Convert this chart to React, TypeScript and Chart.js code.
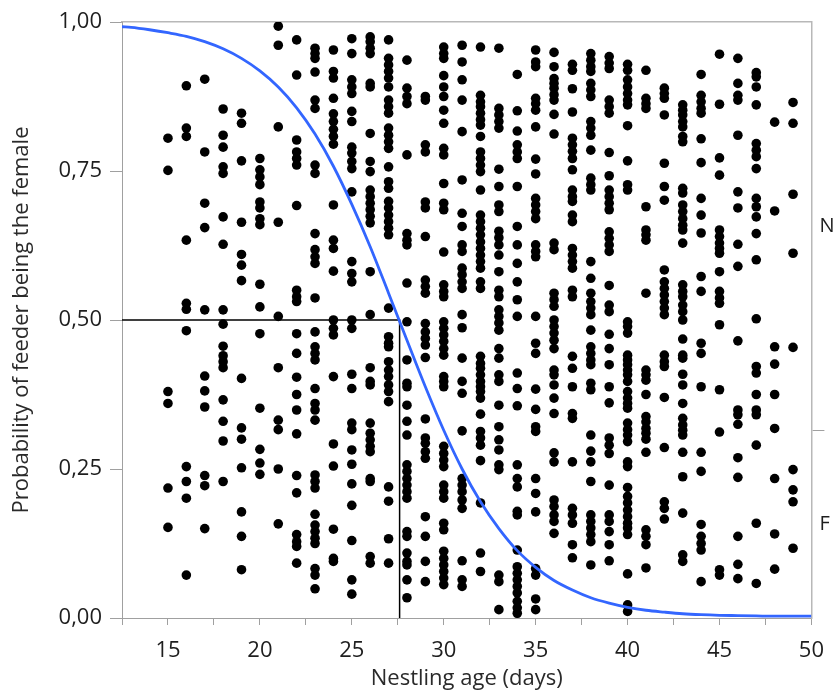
import React, { useEffect, useRef } from 'react';
import { Chart, registerables } from 'chart.js';

Chart.register(...registerables);

// ---- data ----
const ages = [15, 16, 17, 18, 19, 20, 21, 22, 23, 24, 25, 26, 27, 28, 29, 30, 31, 32, 33, 34, 35, 36, 37, 38, 39, 40, 41, 42, 43, 44, 45, 46, 47, 48, 49];

const feeder15 = [0.805, 0.751, 0.38, 0.36, 0.218, 0.152];
const feeder16 = [0.893, 0.822, 0.808, 0.634, 0.528, 0.518, 0.482, 0.254, 0.229, 0.201, 0.072];
const feeder17 = [0.904, 0.782, 0.696, 0.655, 0.517, 0.406, 0.381, 0.354, 0.239, 0.222, 0.15];
const feeder18 = [0.854, 0.81, 0.79, 0.757, 0.746, 0.673, 0.627, 0.517, 0.493, 0.456, 0.44, 0.43, 0.42, 0.366, 0.33, 0.297, 0.229];
const feeder19 = [0.847, 0.83, 0.767, 0.664, 0.61, 0.592, 0.566, 0.402, 0.319, 0.3, 0.252, 0.178, 0.137, 0.081];
const feeder20 = [0.771, 0.752, 0.74, 0.727, 0.698, 0.688, 0.67, 0.66, 0.56, 0.522, 0.477, 0.352, 0.283, 0.26, 0.241];
const feeder21 = [0.993, 0.961, 0.824, 0.664, 0.506, 0.42, 0.332, 0.316, 0.25, 0.158];
const feeder22 = [0.97, 0.911, 0.802, 0.782, 0.771, 0.76, 0.692, 0.55, 0.539, 0.531, 0.477, 0.444, 0.404, 0.375, 0.349, 0.309, 0.239, 0.21, 0.14, 0.128, 0.12, 0.092];
const feeder23 = [0.956, 0.947, 0.939, 0.916, 0.869, 0.855, 0.76, 0.746, 0.645, 0.618, 0.606, 0.595, 0.537, 0.48, 0.455, 0.444, 0.433, 0.385, 0.36, 0.349, 0.332, 0.24, 0.229, 0.218, 0.174, 0.156, 0.145, 0.134, 0.125, 0.083, 0.072, 0.049];
const feeder24 = [0.953, 0.917, 0.906, 0.872, 0.846, 0.833, 0.82, 0.808, 0.795, 0.693, 0.634, 0.62, 0.582, 0.5, 0.486, 0.475, 0.405, 0.292, 0.255, 0.149, 0.1, 0.095];
const feeder25 = [0.972, 0.947, 0.903, 0.891, 0.88, 0.85, 0.833, 0.79, 0.78, 0.766, 0.754, 0.715, 0.598, 0.578, 0.564, 0.5, 0.486, 0.409, 0.385, 0.327, 0.316, 0.282, 0.258, 0.225, 0.189, 0.13, 0.064, 0.04];
const feeder26 = [0.975, 0.967, 0.956, 0.947, 0.897, 0.891, 0.813, 0.766, 0.749, 0.718, 0.707, 0.696, 0.685, 0.674, 0.663, 0.581, 0.509, 0.42, 0.397, 0.391, 0.327, 0.31, 0.299, 0.288, 0.279, 0.234, 0.229, 0.103, 0.092];
const feeder27 = [0.97, 0.939, 0.928, 0.917, 0.906, 0.891, 0.869, 0.858, 0.847, 0.822, 0.81, 0.799, 0.788, 0.757, 0.732, 0.721, 0.699, 0.688, 0.676, 0.665, 0.654, 0.643, 0.52, 0.472, 0.461, 0.455, 0.43, 0.416, 0.405, 0.391, 0.38, 0.363, 0.22, 0.196, 0.133, 0.092];
const feeder28 = [0.936, 0.889, 0.875, 0.863, 0.777, 0.645, 0.634, 0.626, 0.562, 0.497, 0.433, 0.394, 0.388, 0.357, 0.33, 0.307, 0.257, 0.246, 0.234, 0.223, 0.212, 0.201, 0.145, 0.137, 0.109, 0.095, 0.089, 0.064, 0.034];
const feeder29 = [0.875, 0.869, 0.794, 0.782, 0.698, 0.688, 0.64, 0.567, 0.556, 0.545, 0.494, 0.48, 0.469, 0.458, 0.437, 0.334, 0.302, 0.293, 0.279, 0.268, 0.17, 0.137, 0.095, 0.061];
const feeder30 = [0.958, 0.947, 0.939, 0.91, 0.891, 0.875, 0.852, 0.83, 0.788, 0.777, 0.729, 0.696, 0.685, 0.614, 0.559, 0.548, 0.539, 0.497, 0.486, 0.475, 0.464, 0.452, 0.441, 0.405, 0.397, 0.388, 0.288, 0.276, 0.265, 0.254, 0.223, 0.212, 0.201, 0.159, 0.148, 0.112, 0.1, 0.089, 0.078, 0.067, 0.056];
const feeder31 = [0.961, 0.933, 0.903, 0.869, 0.816, 0.735, 0.679, 0.657, 0.626, 0.615, 0.587, 0.576, 0.564, 0.553, 0.509, 0.487, 0.436, 0.397, 0.377, 0.314, 0.234, 0.223, 0.212, 0.198, 0.184, 0.096, 0.064, 0.053];
const feeder32 = [0.958, 0.877, 0.866, 0.858, 0.847, 0.836, 0.827, 0.808, 0.782, 0.771, 0.76, 0.749, 0.718, 0.676, 0.665, 0.654, 0.643, 0.631, 0.62, 0.609, 0.598, 0.587, 0.564, 0.553, 0.439, 0.427, 0.419, 0.408, 0.397, 0.388, 0.38, 0.369, 0.342, 0.313, 0.302, 0.29, 0.264, 0.193, 0.109, 0.078];
const feeder33 = [0.956, 0.855, 0.844, 0.833, 0.822, 0.753, 0.724, 0.693, 0.682, 0.649, 0.638, 0.626, 0.609, 0.581, 0.55, 0.539, 0.517, 0.506, 0.495, 0.483, 0.452, 0.436, 0.408, 0.397, 0.357, 0.321, 0.299, 0.282, 0.257, 0.249, 0.072, 0.061, 0.014];
const feeder34 = [0.912, 0.851, 0.817, 0.794, 0.782, 0.771, 0.724, 0.657, 0.626, 0.595, 0.564, 0.534, 0.506, 0.411, 0.385, 0.356, 0.257, 0.234, 0.22, 0.179, 0.173, 0.114, 0.086, 0.075, 0.064, 0.053, 0.042, 0.028, 0.017, 0.008];
const feeder35 = [0.953, 0.933, 0.925, 0.872, 0.863, 0.852, 0.824, 0.77, 0.745, 0.704, 0.693, 0.682, 0.67, 0.626, 0.615, 0.606, 0.506, 0.461, 0.444, 0.384, 0.35, 0.321, 0.313, 0.234, 0.209, 0.178, 0.083, 0.072, 0.032, 0.014];
const feeder36 = [0.949, 0.925, 0.905, 0.897, 0.889, 0.878, 0.869, 0.845, 0.812, 0.629, 0.618, 0.545, 0.534, 0.523, 0.5, 0.489, 0.478, 0.466, 0.452, 0.416, 0.408, 0.391, 0.369, 0.343, 0.277, 0.262, 0.198, 0.187, 0.173, 0.162, 0.142];
const feeder37 = [0.929, 0.919, 0.888, 0.849, 0.805, 0.794, 0.783, 0.771, 0.752, 0.718, 0.707, 0.699, 0.676, 0.665, 0.62, 0.609, 0.598, 0.587, 0.55, 0.539, 0.439, 0.419, 0.388, 0.343, 0.335, 0.262, 0.184, 0.173, 0.159, 0.123, 0.101];
const feeder38 = [0.947, 0.936, 0.925, 0.917, 0.897, 0.886, 0.875, 0.833, 0.822, 0.81, 0.785, 0.738, 0.727, 0.718, 0.598, 0.57, 0.545, 0.531, 0.52, 0.509, 0.483, 0.455, 0.444, 0.433, 0.425, 0.394, 0.383, 0.307, 0.28, 0.262, 0.229, 0.173, 0.162, 0.151, 0.14, 0.128, 0.089];
const feeder39 = [0.942, 0.931, 0.922, 0.869, 0.858, 0.847, 0.781, 0.742, 0.718, 0.707, 0.696, 0.685, 0.648, 0.637, 0.626, 0.615, 0.558, 0.525, 0.514, 0.476, 0.452, 0.425, 0.388, 0.361, 0.302, 0.29, 0.276, 0.223, 0.173, 0.162, 0.145, 0.123, 0.096];
const feeder40 = [0.929, 0.919, 0.903, 0.891, 0.88, 0.869, 0.861, 0.826, 0.767, 0.727, 0.718, 0.497, 0.489, 0.478, 0.441, 0.433, 0.425, 0.416, 0.408, 0.397, 0.38, 0.369, 0.36, 0.352, 0.327, 0.316, 0.307, 0.296, 0.262, 0.254, 0.219, 0.204, 0.193, 0.181, 0.17, 0.159, 0.151, 0.14, 0.074, 0.022, 0.011];
const feeder41 = [0.919, 0.872, 0.863, 0.855, 0.69, 0.651, 0.643, 0.634, 0.545, 0.416, 0.408, 0.399, 0.375, 0.338, 0.329, 0.318, 0.31, 0.3, 0.278, 0.148, 0.137, 0.123, 0.084];
const feeder42 = [0.889, 0.88, 0.872, 0.844, 0.763, 0.724, 0.701, 0.584, 0.564, 0.553, 0.542, 0.531, 0.52, 0.509, 0.441, 0.43, 0.422, 0.37, 0.286, 0.195, 0.184, 0.166];
const feeder43 = [0.861, 0.852, 0.844, 0.833, 0.824, 0.808, 0.799, 0.721, 0.713, 0.693, 0.682, 0.67, 0.659, 0.651, 0.629, 0.559, 0.548, 0.539, 0.525, 0.514, 0.5, 0.468, 0.441, 0.436, 0.409, 0.391, 0.36, 0.335, 0.324, 0.315, 0.307, 0.278, 0.237, 0.176, 0.106, 0.095];
const feeder44 = [0.912, 0.877, 0.866, 0.855, 0.847, 0.804, 0.764, 0.704, 0.676, 0.646, 0.573, 0.548, 0.461, 0.444, 0.388, 0.278, 0.246, 0.157, 0.137, 0.125, 0.114, 0.061];
const feeder45 = [0.946, 0.862, 0.772, 0.743, 0.651, 0.64, 0.629, 0.62, 0.612, 0.581, 0.548, 0.537, 0.528, 0.492, 0.383, 0.312, 0.081, 0.072];
const feeder46 = [0.939, 0.897, 0.877, 0.869, 0.81, 0.715, 0.688, 0.627, 0.59, 0.465, 0.349, 0.341, 0.325, 0.269, 0.236, 0.137, 0.09, 0.066];
const feeder47 = [0.915, 0.908, 0.891, 0.861, 0.796, 0.785, 0.774, 0.754, 0.704, 0.69, 0.673, 0.645, 0.601, 0.502, 0.422, 0.411, 0.375, 0.349, 0.341, 0.29, 0.159, 0.058];
const feeder48 = [0.832, 0.683, 0.455, 0.426, 0.375, 0.318, 0.234, 0.141, 0.082];
const feeder49 = [0.865, 0.83, 0.711, 0.612, 0.454, 0.249, 0.215, 0.195, 0.117];

const feederByAge = [
  feeder15, feeder16, feeder17, feeder18, feeder19, feeder20, feeder21, feeder22, feeder23, feeder24,
  feeder25, feeder26, feeder27, feeder28, feeder29, feeder30, feeder31, feeder32, feeder33, feeder34,
  feeder35, feeder36, feeder37, feeder38, feeder39, feeder40, feeder41, feeder42, feeder43, feeder44,
  feeder45, feeder46, feeder47, feeder48, feeder49,
];

// fitted curve
const curveAges = [12.5, 13, 14, 15, 16, 17, 18, 19, 20, 21, 22, 23, 24, 25, 26, 27, 28, 29, 30, 31, 32, 33, 34, 35, 36, 37, 38, 39, 40, 41, 42, 43, 44, 45, 46, 47, 48, 49, 50];
const curveProb = [0.992, 0.991, 0.987, 0.982, 0.976, 0.967, 0.955, 0.939, 0.918, 0.891, 0.856, 0.812, 0.758, 0.694, 0.623, 0.545, 0.466, 0.388, 0.315, 0.25, 0.195, 0.15, 0.113, 0.085, 0.063, 0.047, 0.034, 0.025, 0.018, 0.013, 0.0098, 0.0071, 0.0055, 0.0045, 0.004, 0.0035, 0.003, 0.003, 0.003];

const cutoffAge = 27.6;
const cutoffProb = 0.5;
const femaleShare = 0.314;

const xTicks = [12.5, 15, 17.5, 20, 22.5, 25, 27.5, 30, 32.5, 35, 37.5, 40, 42.5, 45, 47.5, 50];
const yTicks = [0, 0.25, 0.5, 0.75, 1];
const sideLabelF = 'F';
const sideLabelN = 'N';

const FONT = "'Open Sans', 'DejaVu Sans', sans-serif";

export default function App() {
  const ref = useRef<HTMLCanvasElement | null>(null);

  useEffect(() => {
    document.body.style.margin = '0';
    const canvas = ref.current;
    if (!canvas) return;

    const points = ages.flatMap((a, i) => feederByAge[i].map((v) => ({ x: a, y: v })));
    const curve = curveAges.map((a, i) => ({ x: a, y: curveProb[i] }));
    const cutoff = [
      { x: xTicks[0], y: cutoffProb },
      { x: cutoffAge, y: cutoffProb },
      { x: cutoffAge, y: 0 },
    ];

    const axisGray = '#a0a0a0';
    const tickFont = { family: FONT, size: 22 };

    const chart = new Chart(canvas, {
      type: 'scatter',
      data: {
        datasets: [
          {
            type: 'line',
            data: curve,
            borderColor: '#3366ff',
            borderWidth: 2.8,
            pointRadius: 0,
            cubicInterpolationMode: 'monotone',
            order: 0,
          } as any,
          {
            type: 'line',
            data: cutoff,
            borderColor: '#000000',
            borderWidth: 1.5,
            pointRadius: 0,
            tension: 0,
            order: 1,
          } as any,
          {
            type: 'scatter',
            data: points,
            backgroundColor: '#000000',
            borderWidth: 0,
            pointRadius: 4.8,
            order: 2,
          },
        ],
      },
      options: {
        responsive: false,
        animation: false,
        events: [],
        layout: { padding: { top: 22, left: 0, right: 0, bottom: 0 } },
        plugins: { legend: { display: false }, tooltip: { enabled: false } },
        scales: {
          x: {
            type: 'linear',
            position: 'bottom',
            min: xTicks[0],
            max: xTicks[xTicks.length - 1],
            afterBuildTicks: (s: any) => {
              s.ticks = xTicks.map((v) => ({ value: v }));
            },
            afterFit: (s: any) => {
              s.height = 77;
            },
            ticks: {
              autoSkip: false,
              maxRotation: 0,
              padding: 13,
              color: '#1e1e1e',
              font: tickFont,
              callback: (v: any) => (Number(v) % 5 === 0 ? String(v) : ''),
            },
            grid: { drawOnChartArea: false, drawTicks: true, tickLength: 7, tickColor: axisGray },
            border: { display: true, color: axisGray, width: 1 },
            title: {
              display: true,
              text: 'Nestling age (days)',
              color: '#2a2a2a',
              font: { family: FONT, size: 22 },
              padding: { top: 0, bottom: 3 },
            },
          },
          x2: {
            type: 'linear',
            position: 'top',
            min: xTicks[0],
            max: xTicks[xTicks.length - 1],
            ticks: { display: false },
            grid: { display: false, drawTicks: false },
            border: { display: true, color: '#b8b8b8', width: 1.5 },
            afterFit: (s: any) => {
              s.height = 0;
            },
          },
          y: {
            type: 'linear',
            position: 'left',
            min: 0,
            max: 1,
            afterBuildTicks: (s: any) => {
              s.ticks = yTicks.map((v) => ({ value: v }));
            },
            afterFit: (s: any) => {
              s.width = 122;
            },
            ticks: {
              padding: 8,
              color: '#1e1e1e',
              font: tickFont,
              callback: (v: any) => Number(v).toFixed(2).replace('.', ','),
            },
            grid: { drawOnChartArea: false, drawTicks: true, tickLength: 12, tickColor: axisGray },
            border: { display: true, color: axisGray, width: 1 },
            title: {
              display: true,
              text: 'Probability of feeder being the female',
              color: '#2a2a2a',
              font: { family: FONT, size: 22 },
              padding: { top: 9, bottom: 0 },
            },
          },
          y2: {
            type: 'linear',
            position: 'right',
            min: 0,
            max: 1,
            afterBuildTicks: (s: any) => {
              s.ticks = [
                { value: femaleShare / 2 },
                { value: femaleShare },
                { value: (1 + femaleShare) / 2 },
              ];
            },
            afterFit: (s: any) => {
              s.width = 25;
            },
            ticks: {
              padding: -5,
              color: '#1e1e1e',
              font: { family: FONT, size: 20 },
              callback: (v: any) => {
                const n = Number(v);
                if (Math.abs(n - femaleShare) < 1e-9) return '';
                return n < femaleShare ? sideLabelF : sideLabelN;
              },
            },
            grid: {
              drawOnChartArea: false,
              drawTicks: true,
              tickLength: 13,
              tickColor: (ctx: any) =>
                ctx.tick && Math.abs(ctx.tick.value - femaleShare) < 1e-9 ? axisGray : 'rgba(0,0,0,0)',
            },
            border: { display: true, color: '#b8b8b8', width: 1.5 },
          },
        },
      },
    });

    return () => chart.destroy();
  }, []);

  return (
    <div style={{ width: 837, height: 695, background: '#ffffff' }}>
      <canvas ref={ref} width={837} height={695} style={{ display: 'block' }} />
    </div>
  );
}
